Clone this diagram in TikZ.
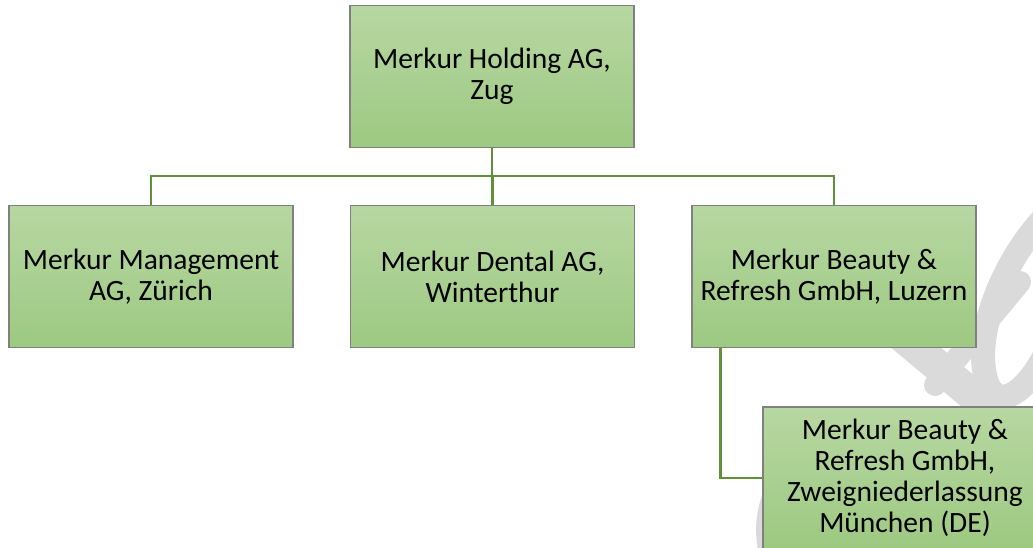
\documentclass[tikz,border=0pt]{standalone}
\usepackage{fontspec}
\setmainfont{Carlito}
\definecolor{boxtop}{RGB}{183,215,162}
\definecolor{boxbot}{RGB}{157,201,129}
\definecolor{boxline}{RGB}{128,128,128}
\definecolor{conn}{RGB}{96,145,56}
\definecolor{wmark}{RGB}{218,218,218}
\begin{document}
\begin{tikzpicture}[x=1pt,y=-1pt,
  orgbox/.style={rectangle, draw=boxline, line width=1.3pt, top color=boxtop, bottom color=boxbot,
    minimum width=284pt, minimum height=142pt, inner sep=0pt, align=center,
    font=\fontsize{29.5}{31}\selectfont},
  link/.style={draw=conn, line width=2.8pt},
  wm/.style={draw=wmark, line width=26pt, line cap=round}]
\useasboundingbox (0,0) rectangle (1033,547);
% watermark (behind)
\draw[wm, line width=32pt] (895,330) -- (1000,418);
\draw[wm, line width=22pt] (935,385) -- (1020,282);
\draw[wm, line width=24pt] (1042,220) .. controls (1005,260) and (975,330) .. (985,375) .. controls (992,410) and (1020,402) .. (1045,355);
\draw[wm] (805,468) .. controls (775,478) and (760,520) .. (775,565);
% boxes
\node[orgbox] (top) at (492,76.5) {Merkur Holding AG,\\Zug};
\node[orgbox] (mgmt) at (151,276.5) {Merkur Management\\AG, Zürich};
\node[orgbox] (dental) at (492.5,276.5) {Merkur Dental AG,\\Winterthur};
\node[orgbox] (beauty) at (834,276.5) {Merkur Beauty \&\\Refresh GmbH, Luzern};
\node[orgbox] (muc) at (905,478) {Merkur Beauty \&\\Refresh GmbH,\\Zweigniederlassung\\München (DE)};
\coordinate (bar) at (0,176);
% connectors
\draw[link] (top.south) -- (top.south |- bar);
\draw[link] (mgmt.north) -- (mgmt.north |- bar) -- (beauty.north |- bar) -- (beauty.north);
\draw[link] (dental.north) -- (dental.north |- bar);
\coordinate (drop) at ([xshift=29pt]beauty.south west);
\draw[link] (drop) |- (muc.west);
\end{tikzpicture}
\end{document}
